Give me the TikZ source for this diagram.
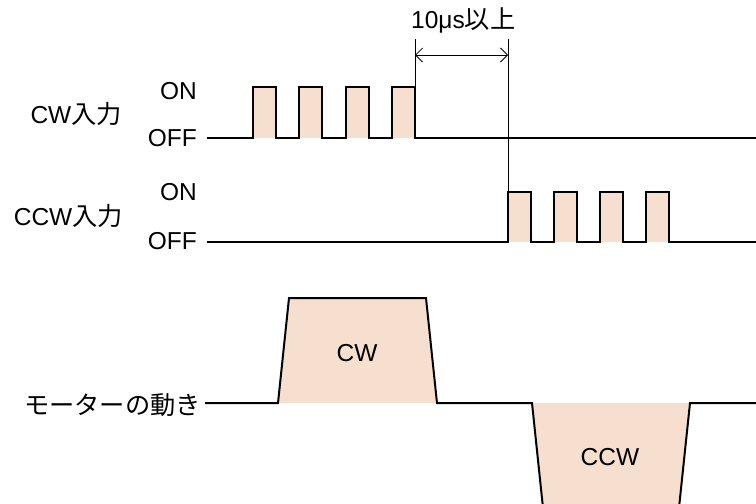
\documentclass[tikz,border=0pt]{standalone}
\usepackage{fontspec}
\setmainfont{Liberation Sans}
\newfontfamily\jpfont{Noto Sans CJK JP}[Scale=1.03]
\usetikzlibrary{arrows.meta}
\definecolor{pulsepink}{RGB}{246,223,206}

\begin{document}
\begin{tikzpicture}[x=1pt, y=-1pt,
         wave/.style={line width=2pt, black, line join=miter},
         pulse/.style={fill=pulsepink},
         dim/.style={line width=0.8pt, black},
         span/.style={{Straight Barb[length=7pt,width=14pt]}-{Straight Barb[length=7pt,width=14pt]}, line width=0.8pt},
         lbl/.style={font=\fontsize{24.5}{28}\selectfont, inner sep=0pt}
      ]
   \useasboundingbox (0,0) rectangle (756,504);

   \node[lbl, anchor=east] (cwL) at (122,114) {CW\jpfont 入力};
   \node[lbl, anchor=east] (cwOn) at (197,91) {ON};
   \node[lbl, anchor=east] (cwOff) at (197,138) {OFF};
   \node[lbl, anchor=east] (ccwL) at (123,216) {CCW\jpfont 入力};
   \node[lbl, anchor=east] (ccwOn) at (197,192) {ON};
   \node[lbl, anchor=east] (ccwOff) at (197,241) {OFF};
   \node[lbl, anchor=east] (motorL) at (201,405) {\jpfont モーターの動き};
   \node[lbl, anchor=west] (gapL) at (411,20) {10μs\jpfont 以上};

   \foreach \x in {253,299.3,345.6,392} \fill[pulse] (\x,87) rectangle ++(23,51);
   \foreach \x in {508,554,600,646} \fill[pulse] (\x,192) rectangle ++(23,50);
   \fill[pulse] (278,403) -- (289,298) -- (426,298) -- (437,403) -- cycle;
   \fill[pulse] (532,403) -- (542.6,504) -- (679.4,504) -- (690,403) -- cycle;

   \node[lbl] (cwM) at (357,353) {CW};
   \node[lbl] (ccwM) at (610,457) {CCW};

   \coordinate (cwStart) at (207,138);
   \coordinate (ccwStart) at (207,242);
   \coordinate (motorStart) at (205,403);

   \draw[wave] (cwStart) \foreach \x in {253,299.3,345.6,392} { -- (\x,138) -- (\x,87) -- ++(23,0) -- ++(0,51) } -- (756,138);
   \draw[wave] (ccwStart) \foreach \x in {508,554,600,646} { -- (\x,242) -- (\x,192) -- ++(23,0) -- ++(0,50) } -- (756,242);
   \draw[wave] (motorStart) -- (278,403) -- (289,298) -- (426,298) -- (437,403) -- (532,403) -- (542.6,504);
   \draw[wave] (679.4,504) -- (690,403) -- (756,403);

   \coordinate (endCw) at (415,87);
   \coordinate (startCcw) at (508,192);
   \coordinate (tickA) at (415,39);
   \coordinate (tickB) at (508,39);

   \begin{scope}[dim]
      \draw (endCw) -- (tickA);
      \draw (startCcw) -- (tickB);
      \draw[span] (415,55) -- (508,55);
   \end{scope}
\end{tikzpicture}
\end{document}
